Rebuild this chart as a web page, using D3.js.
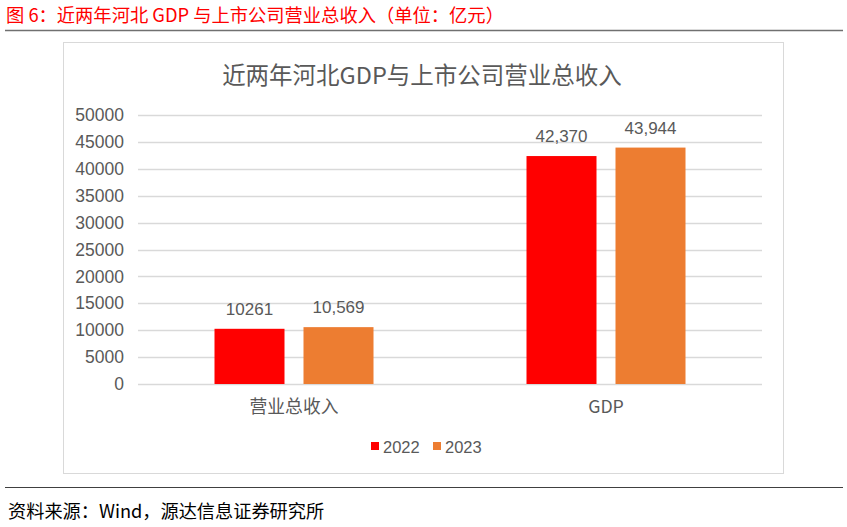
<!DOCTYPE html>
<html>
<head>
<meta charset="utf-8">
<script src="https://cdn.jsdelivr.net/npm/d3@7"></script>
<style>
  body { margin:0; background:#fff; }
  svg text { font-family:"Noto Sans CJK SC","Liberation Sans",sans-serif; }
</style>
</head>
<body>
<svg id="chart" width="847" height="527"></svg>
<script>
const categories = ["营业总收入", "GDP"];
const years = ["2022", "2023"];
const values2022 = [10261, 42370];
const values2023 = [10569, 43944];
const labels2022 = ["10261", "42,370"];
const labels2023 = ["10,569", "43,944"];
const yTicks = [0, 5000, 10000, 15000, 20000, 25000, 30000, 35000, 40000, 45000, 50000];
const colors = ["#FF0000", "#ED7D31"];

const svg = d3.select("#chart");

// header
svg.append("text").attr("x", 6).attr("y", 22)
  .attr("fill", "#FF0000").attr("font-size", 18.3)
  .text("图 6：近两年河北 GDP 与上市公司营业总收入（单位：亿元）");
svg.append("line").attr("x1", 5).attr("x2", 843).attr("y1", 30.5).attr("y2", 30.5)
  .attr("stroke", "#707070").attr("stroke-width", 1.5);

// chart box
svg.append("rect").attr("x", 63.5).attr("y", 42.5).attr("width", 720).attr("height", 431)
  .attr("fill", "#fff").attr("stroke", "#D9D9D9");

svg.append("text").attr("x", 422).attr("y", 84).attr("text-anchor", "middle")
  .attr("fill", "#595959").attr("font-size", 23.5)
  .text("近两年河北GDP与上市公司营业总收入");

const x0 = d3.scaleBand().domain(categories).range([138, 762]).paddingInner(0).paddingOuter(0);
const x1 = d3.scaleBand().domain(years).range([76.5, 312 - 76.5]).paddingInner(19 / 89);
const y = d3.scaleLinear().domain([0, 50000]).range([384, 115]);

// gridlines
svg.append("g").selectAll("line").data(yTicks).join("line")
  .attr("x1", 138).attr("x2", 762)
  .attr("y1", d => Math.round(y(d)) + 0.5).attr("y2", d => Math.round(y(d)) + 0.5)
  .attr("stroke", "#D9D9D9").attr("stroke-width", 1.3);

// y axis labels
const yAxis = d3.axisLeft(y).tickValues(yTicks).tickSize(0).tickPadding(0).tickFormat(d => String(d));
const yg = svg.append("g").attr("transform", "translate(124,0)").call(yAxis);
yg.select(".domain").remove();
yg.selectAll("text").attr("fill", "#595959").attr("font-size", 17.5)
  .style("font-family", "'Liberation Sans',sans-serif");

// bars
const series = [values2022, values2023];
const seriesLabels = [labels2022, labels2023];
years.forEach((yr, i) => {
  const g = svg.append("g");
  g.selectAll("rect").data(categories).join("rect")
    .attr("x", c => x0(c) + x1(yr))
    .attr("y", (c, j) => y(series[i][j]))
    .attr("width", x1.bandwidth())
    .attr("height", (c, j) => y(0) - y(series[i][j]))
    .attr("fill", colors[i]);
  g.selectAll("text").data(categories).join("text")
    .attr("x", c => x0(c) + x1(yr) + x1.bandwidth() / 2)
    .attr("y", (c, j) => y(series[i][j]) - 14)
    .attr("text-anchor", "middle")
    .attr("fill", "#595959").attr("font-size", 17)
    .style("font-family", "'Liberation Sans',sans-serif")
    .text((c, j) => seriesLabels[i][j]);
});

// category labels
svg.append("g").selectAll("text").data(categories).join("text")
  .attr("x", c => x0(c) + x0.bandwidth() / 2)
  .attr("y", 413)
  .attr("text-anchor", "middle")
  .attr("fill", "#595959").attr("font-size", 17.8)
  .text(c => c);

// legend
const legend = svg.append("g");
const legendX = [371, 433];
years.forEach((yr, i) => {
  legend.append("rect").attr("x", legendX[i]).attr("y", 442).attr("width", 8).attr("height", 8)
    .attr("fill", colors[i]);
  legend.append("text").attr("x", legendX[i] + 12).attr("y", 453)
    .attr("fill", "#595959").attr("font-size", 16.5)
    .style("font-family", "'Liberation Sans',sans-serif")
    .text(yr);
});

// footer
svg.append("line").attr("x1", 5).attr("x2", 843).attr("y1", 487.5).attr("y2", 487.5)
  .attr("stroke", "#404040").attr("stroke-width", 1);
svg.append("text").attr("x", 8).attr("y", 518)
  .attr("fill", "#000").attr("font-size", 18.2)
  .text("资料来源：Wind，源达信息证券研究所");
</script>
</body>
</html>
